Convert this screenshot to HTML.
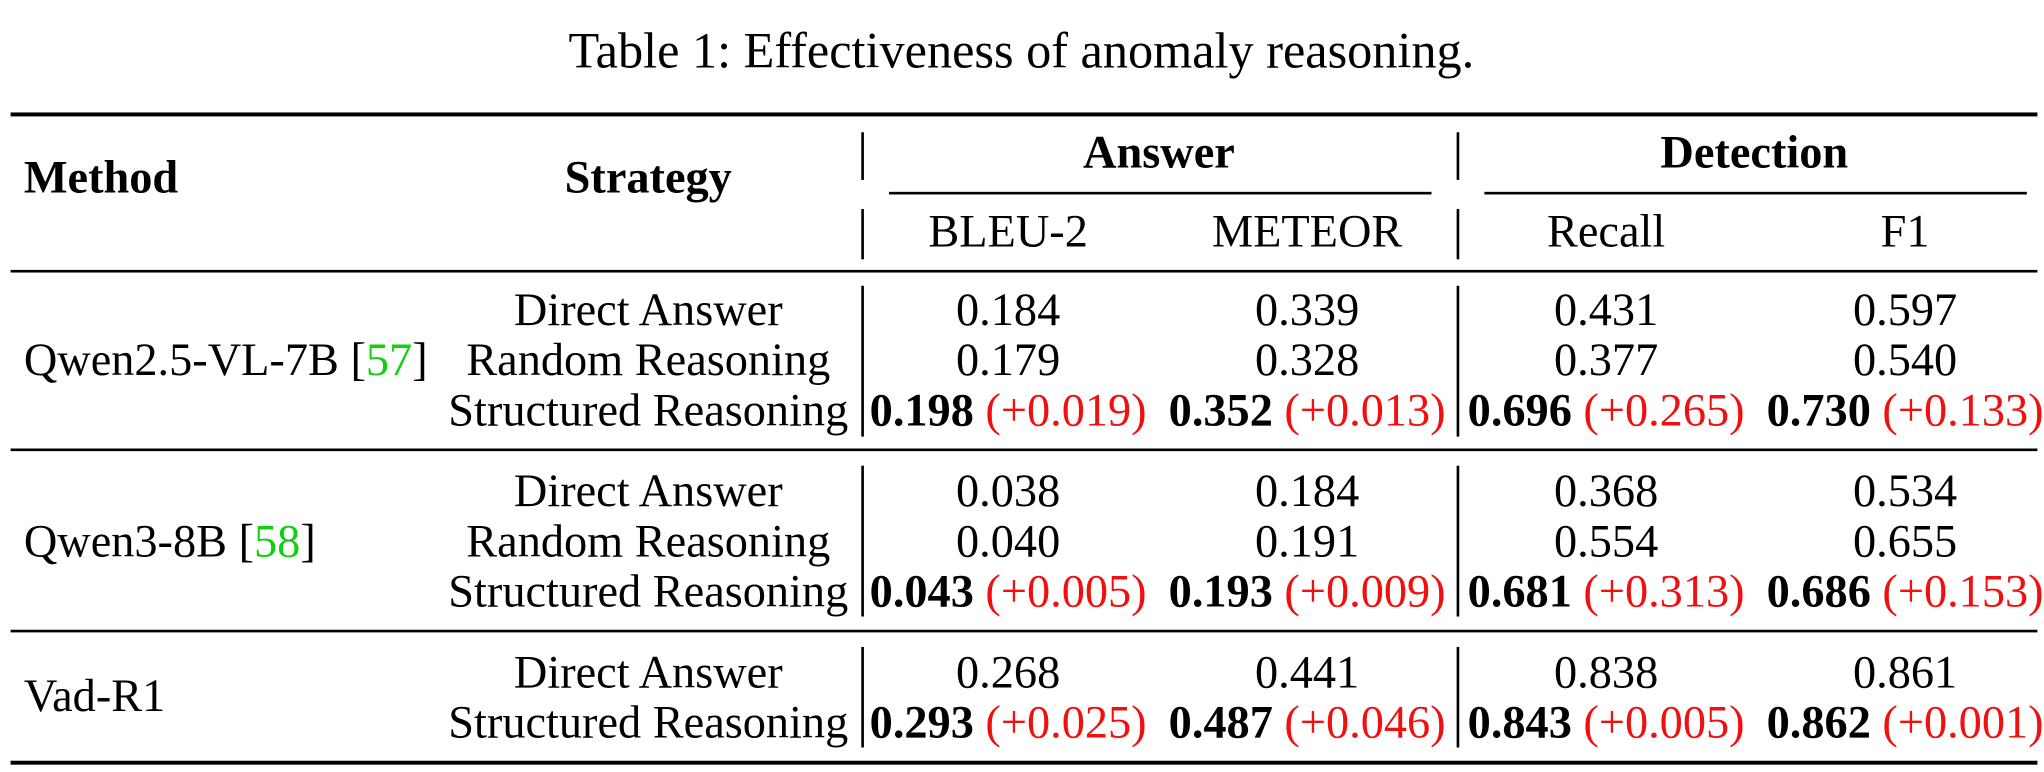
<!DOCTYPE html>
<html><head><meta charset="utf-8">
<style>
body{margin:0;background:#fff;}
#outer{position:relative;width:2044px;height:772px;overflow:hidden;background:#fff;}
#wrap{position:absolute;left:0;top:0;width:1545px;height:584px;transform:scale(1.323);transform-origin:0 0;font-family:"Liberation Serif",serif;color:#000;}
.t{position:absolute;white-space:nowrap;line-height:1;font-size:35px;transform:translate(-50%,-50%);}
.l{transform:translate(0,-50%);}
.b{font-weight:bold;}
.r{color:#f01010;}
.g{color:#10d010;}
.rule{position:absolute;left:8px;width:1532px;background:#000;}
.vb{position:absolute;width:1.5px;background:#000;}
.cm{position:absolute;height:1.5px;background:#000;}
</style></head><body>
<div id="outer">
<div id="wrap">
<div class="t" style="left:772px;top:39px;font-size:38px">Table 1: Effectiveness of anomaly reasoning.</div>

<div class="rule" style="top:85px;height:2.5px"></div>
<div class="rule" style="top:204px;height:1.5px"></div>
<div class="rule" style="top:339px;height:1.5px"></div>
<div class="rule" style="top:476px;height:1.5px"></div>
<div class="rule" style="top:575px;height:2.5px"></div>

<div class="vb" style="left:651px;top:100px;height:36px"></div>
<div class="vb" style="left:651px;top:158px;height:38px"></div>
<div class="vb" style="left:1101px;top:100px;height:36px"></div>
<div class="vb" style="left:1101px;top:158px;height:38px"></div>
<div class="vb" style="left:651px;top:216px;height:114px"></div>
<div class="vb" style="left:1101px;top:216px;height:114px"></div>
<div class="vb" style="left:651px;top:352px;height:114px"></div>
<div class="vb" style="left:1101px;top:352px;height:114px"></div>
<div class="vb" style="left:651px;top:489px;height:76px"></div>
<div class="vb" style="left:1101px;top:489px;height:76px"></div>
<div class="cm" style="left:672px;top:145px;width:410px"></div>
<div class="cm" style="left:1122px;top:145px;width:410px"></div>

<div class="t l b" style="left:18px;top:134px">Method</div>
<div class="t b" style="left:490px;top:134px">Strategy</div>
<div class="t b" style="left:876px;top:115px">Answer</div>
<div class="t b" style="left:1326px;top:115px">Detection</div>
<div class="t" style="left:762px;top:175px">BLEU-2</div>
<div class="t" style="left:988px;top:175px">METEOR</div>
<div class="t" style="left:1214px;top:175px">Recall</div>
<div class="t" style="left:1440px;top:175px">F1</div>

<div class="t l" style="left:18px;top:272px">Qwen2.5-VL-7B [<span class="g">57</span>]</div>
<div class="t" style="left:490px;top:234px">Direct Answer</div>
<div class="t" style="left:490px;top:272px">Random Reasoning</div>
<div class="t" style="left:490px;top:310px">Structured Reasoning</div>
<div class="t" style="left:762px;top:234px">0.184</div>
<div class="t" style="left:988px;top:234px">0.339</div>
<div class="t" style="left:1214px;top:234px">0.431</div>
<div class="t" style="left:1440px;top:234px">0.597</div>
<div class="t" style="left:762px;top:272px">0.179</div>
<div class="t" style="left:988px;top:272px">0.328</div>
<div class="t" style="left:1214px;top:272px">0.377</div>
<div class="t" style="left:1440px;top:272px">0.540</div>
<div class="t" style="left:762px;top:310px"><b>0.198</b> <span class="r">(+0.019)</span></div>
<div class="t" style="left:988px;top:310px"><b>0.352</b> <span class="r">(+0.013)</span></div>
<div class="t" style="left:1214px;top:310px"><b>0.696</b> <span class="r">(+0.265)</span></div>
<div class="t" style="left:1440px;top:310px"><b>0.730</b> <span class="r">(+0.133)</span></div>

<div class="t l" style="left:18px;top:409px">Qwen3-8B [<span class="g">58</span>]</div>
<div class="t" style="left:490px;top:371px">Direct Answer</div>
<div class="t" style="left:490px;top:409px">Random Reasoning</div>
<div class="t" style="left:490px;top:447px">Structured Reasoning</div>
<div class="t" style="left:762px;top:371px">0.038</div>
<div class="t" style="left:988px;top:371px">0.184</div>
<div class="t" style="left:1214px;top:371px">0.368</div>
<div class="t" style="left:1440px;top:371px">0.534</div>
<div class="t" style="left:762px;top:409px">0.040</div>
<div class="t" style="left:988px;top:409px">0.191</div>
<div class="t" style="left:1214px;top:409px">0.554</div>
<div class="t" style="left:1440px;top:409px">0.655</div>
<div class="t" style="left:762px;top:447px"><b>0.043</b> <span class="r">(+0.005)</span></div>
<div class="t" style="left:988px;top:447px"><b>0.193</b> <span class="r">(+0.009)</span></div>
<div class="t" style="left:1214px;top:447px"><b>0.681</b> <span class="r">(+0.313)</span></div>
<div class="t" style="left:1440px;top:447px"><b>0.686</b> <span class="r">(+0.153)</span></div>

<div class="t l" style="left:18px;top:526px">Vad-R1</div>
<div class="t" style="left:490px;top:508px">Direct Answer</div>
<div class="t" style="left:490px;top:546px">Structured Reasoning</div>
<div class="t" style="left:762px;top:508px">0.268</div>
<div class="t" style="left:988px;top:508px">0.441</div>
<div class="t" style="left:1214px;top:508px">0.838</div>
<div class="t" style="left:1440px;top:508px">0.861</div>
<div class="t" style="left:762px;top:546px"><b>0.293</b> <span class="r">(+0.025)</span></div>
<div class="t" style="left:988px;top:546px"><b>0.487</b> <span class="r">(+0.046)</span></div>
<div class="t" style="left:1214px;top:546px"><b>0.843</b> <span class="r">(+0.005)</span></div>
<div class="t" style="left:1440px;top:546px"><b>0.862</b> <span class="r">(+0.001)</span></div>
</div>
</div>
</body></html>
